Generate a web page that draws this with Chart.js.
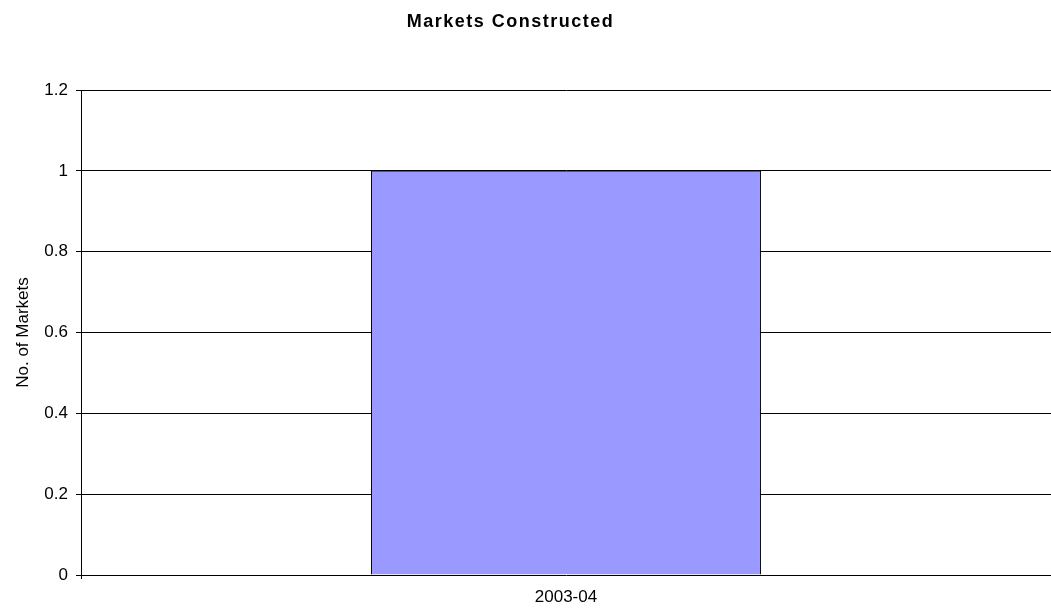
<!DOCTYPE html>
<html>
<head>
<meta charset="utf-8">
<script src="https://cdn.jsdelivr.net/npm/chart.js@4/dist/chart.umd.min.js"></script>
<style>
  html, body { margin: 0; padding: 0; background: #fff; }
  #wrap { width: 1051px; height: 613px; }
</style>
</head>
<body>
<div id="wrap"><canvas id="marketsChart"></canvas></div>
<script>
const years = ["2003-04"];
const marketsBuilt = [1];
const yTicks = [0, 0.2, 0.4, 0.6, 0.8, 1, 1.2];

const FONT = "Liberation Sans, Arial, sans-serif";
const ctx = document.getElementById("marketsChart");

// widen the title lettering a little and nudge it left
const titleSpacing = {
  id: "titleSpacing",
  afterLayout(chart) {
    const tb = chart.titleBlock;
    if (!tb || tb._spaced) return;
    const origDraw = tb.draw.bind(tb);
    tb.draw = function () {
      const c = chart.ctx;
      c.save();
      c.letterSpacing = "1.5px";
      c.translate(-15, 0);
      origDraw();
      c.restore();
    };
    tb._spaced = true;
  },
};

new Chart(ctx, {
  type: "bar",
  data: {
    labels: years,
    datasets: [{
      label: "Markets Constructed",
      data: marketsBuilt,
      backgroundColor: "#9999FF",
      borderColor: "#000000",
      borderWidth: 1,
      categoryPercentage: 1,
      barPercentage: 0.402,
    }],
  },
  options: {
    responsive: true,
    maintainAspectRatio: false,
    animation: false,
    layout: { padding: 0 },
    plugins: {
      legend: { display: false },
      tooltip: { enabled: false },
      title: {
        display: true,
        text: "Markets Constructed",
        color: "#000",
        font: { family: FONT, size: 18, weight: "bold" },
        padding: { top: 11, bottom: 57.4 },
      },
    },
    scales: {
      x: {
        grid: {
          display: true,
          drawOnChartArea: false,
          offset: true,
          tickLength: 4,
          color: (c) => (c.index === 0 ? "#000" : "transparent"),
        },
        border: { display: false },
        ticks: {
          color: "#000",
          font: { family: FONT, size: 17 },
          padding: 8,
        },
        afterFit: (scale) => { scale.height = 38; },
      },
      y: {
        min: 0,
        max: 1.2,
        afterBuildTicks: (scale) => {
          scale.ticks = yTicks.map((v) => ({ value: v }));
        },
        grid: {
          color: "#000",
          lineWidth: 1,
          tickLength: 5,
        },
        border: { color: "#000", width: 1 },
        ticks: {
          color: "#000",
          font: { family: FONT, size: 17 },
          padding: 8,
          callback: (value) => String(value),
        },
        title: {
          display: true,
          text: "No. of Markets",
          color: "#000",
          font: { family: FONT, size: 17 },
          padding: { top: 13, bottom: 0 },
        },
        afterFit: (scale) => { scale.width = 81; },
      },
    },
  },
  plugins: [titleSpacing],
});
</script>
</body>
</html>
